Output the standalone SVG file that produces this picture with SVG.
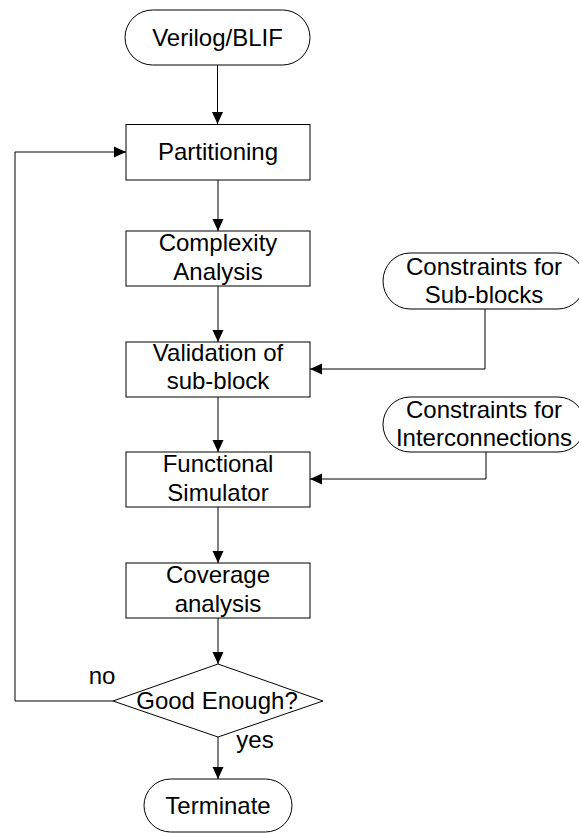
<svg xmlns="http://www.w3.org/2000/svg" width="579" height="833" viewBox="0 0 579 833">
<style>
.shape{fill:#fff;stroke:#000;stroke-width:1}
.t{font-family:"Liberation Sans",Arial,sans-serif;font-size:24px;fill:#000;text-anchor:middle}
.c{fill:none;stroke:#000;stroke-width:1}
</style>
<defs>
<marker id="ah" viewBox="0 0 12 12" refX="12" refY="6" markerWidth="12" markerHeight="12" markerUnits="userSpaceOnUse" orient="auto">
<path d="M0,0.5 L12,6 L0,11.5 Z" fill="#000"/>
</marker>
</defs>
<rect width="579" height="833" fill="#fff"/>
<g id="connectors">
<line class="c" x1="217.5" y1="65" x2="217.5" y2="124" marker-end="url(#ah)"/>
<line class="c" x1="218" y1="180" x2="218" y2="231" marker-end="url(#ah)"/>
<line class="c" x1="218" y1="286" x2="218" y2="342" marker-end="url(#ah)"/>
<line class="c" x1="218" y1="397" x2="218" y2="452" marker-end="url(#ah)"/>
<line class="c" x1="218" y1="507" x2="218" y2="563" marker-end="url(#ah)"/>
<line class="c" x1="218" y1="618" x2="218" y2="664" marker-end="url(#ah)"/>
<line class="c" x1="218" y1="737" x2="218" y2="779" marker-end="url(#ah)"/>
<polyline class="c" points="485,309 485,369 310,369" marker-end="url(#ah)"/>
<polyline class="c" points="486,452 486,479 310,479" marker-end="url(#ah)"/>
<polyline class="c" points="113,701 15,701 15,152 126,152" marker-end="url(#ah)"/>
<text class="t" x="102" y="684">no</text>
<text class="t" x="255" y="748">yes</text>
</g>
<g id="verilog">
<rect class="shape" x="125" y="10" width="185" height="55" rx="27.5" ry="27.5"/>
<text class="t" x="217.5" y="46">Verilog/BLIF</text>
</g>
<g id="partitioning">
<rect class="shape" x="126" y="124.5" width="184" height="55.5"/>
<text class="t" x="218" y="160">Partitioning</text>
</g>
<g id="complexity">
<rect class="shape" x="126" y="231" width="184" height="55"/>
<text class="t" x="218" y="251">Complexity</text>
<text class="t" x="218" y="280">Analysis</text>
</g>
<g id="validation">
<rect class="shape" x="126" y="342" width="184" height="55"/>
<text class="t" x="218" y="361">Validation of</text>
<text class="t" x="218" y="389">sub-block</text>
</g>
<g id="functional">
<rect class="shape" x="126" y="452" width="184" height="55"/>
<text class="t" x="218" y="472">Functional</text>
<text class="t" x="218" y="501">Simulator</text>
</g>
<g id="coverage">
<rect class="shape" x="126" y="563" width="184" height="55"/>
<text class="t" x="218" y="583">Coverage</text>
<text class="t" x="218" y="612">analysis</text>
</g>
<g id="decision">
<polygon class="shape" points="218,664 323,701 218,737 113,701"/>
<text class="t" x="217" y="709">Good Enough?</text>
</g>
<g id="terminate">
<rect class="shape" x="144" y="779" width="148" height="53" rx="26.5" ry="26.5"/>
<text class="t" x="218" y="814">Terminate</text>
</g>
<g id="constraints-sub">
<rect class="shape" x="383" y="253" width="202" height="56" rx="27" ry="28"/>
<text class="t" x="484" y="275">Constraints for</text>
<text class="t" x="484" y="303">Sub-blocks</text>
</g>
<g id="constraints-inter">
<rect class="shape" x="383" y="397" width="202" height="55" rx="27" ry="27.5"/>
<text class="t" x="484" y="418">Constraints for</text>
<text class="t" x="484" y="446">Interconnections</text>
</g>
</svg>
